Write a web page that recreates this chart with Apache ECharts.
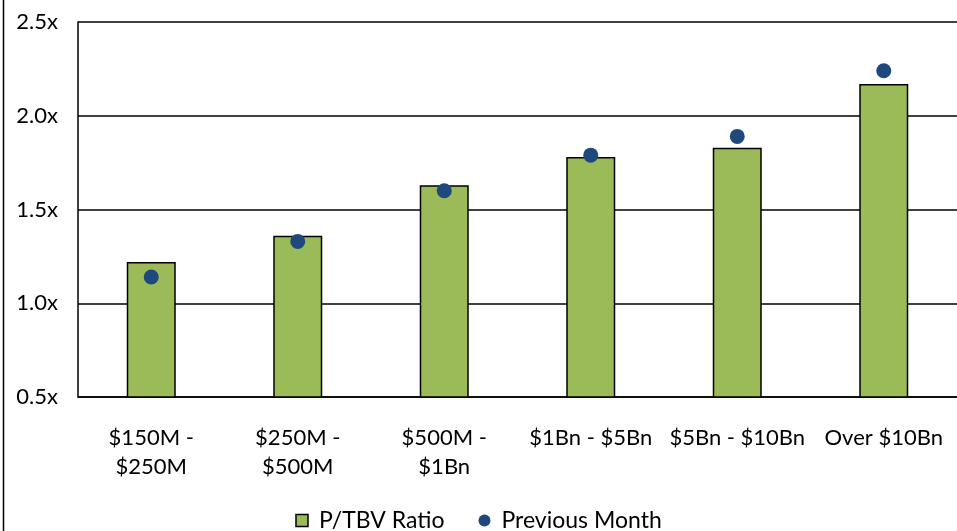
<!DOCTYPE html>
<html><head><meta charset="utf-8">
<script src="https://cdn.jsdelivr.net/npm/echarts@6/dist/echarts.min.js"></script>
<style>html,body{margin:0;padding:0;background:#fff}#c{width:957px;height:531px}</style>
</head><body><div id="c"></div>
<script>
const categories = ['$150M -\n$250M', '$250M -\n$500M', '$500M -\n$1Bn', '$1Bn - $5Bn', '$5Bn - $10Bn', 'Over $10Bn'];
const ptbvRatio = [1.22, 1.36, 1.63, 1.78, 1.83, 2.17];
const previousMonth = [1.14, 1.33, 1.60, 1.79, 1.89, 2.24];
const yTicks = { min: 0.5, max: 2.5, interval: 0.5 };

const FONT = 'Lato';
const chart = echarts.init(document.getElementById('c'), null, { renderer: 'canvas' });
chart.setOption({
  animation: false,
  backgroundColor: '#fff',
  textStyle: { fontFamily: FONT, color: '#000' },
  grid: { left: 78, top: 22, bottom: 134, width: 885, containLabel: false },
  legend: {
    bottom: -6, left: 'center', itemGap: 34, itemWidth: 12, itemHeight: 12,
    textStyle: { fontFamily: FONT, fontSize: 23, color: '#000', padding: [0, 0, 0, 6] },
    data: [
      { name: 'P/TBV Ratio', icon: 'rect', itemStyle: { borderColor: '#000', borderWidth: 1.5 } },
      { name: 'Previous Month', icon: 'circle' }
    ]
  },
  xAxis: {
    type: 'category', data: categories,
    axisLine: { lineStyle: { color: '#000', width: 1.5 } },
    axisTick: { show: false },
    axisLabel: { color: '#000', fontSize: 22, fontFamily: FONT, margin: 26, lineHeight: 29, interval: 0 }
  },
  yAxis: {
    type: 'value', min: yTicks.min, max: yTicks.max, interval: yTicks.interval,
    axisLine: { show: true, lineStyle: { color: '#000', width: 1.5 } },
    axisTick: { show: false },
    splitLine: { lineStyle: { color: '#000', width: 1.5 } },
    axisLabel: { color: '#000', fontSize: 22, fontFamily: FONT, margin: 20, formatter: v => v.toFixed(1) + 'x' }
  },
  series: [
    { name: 'P/TBV Ratio', type: 'bar', data: ptbvRatio, barWidth: 49,
      itemStyle: { color: '#9BBB59', borderColor: '#000', borderWidth: 1.5 } },
    { name: 'Previous Month', type: 'scatter', data: previousMonth, symbolSize: 15,
      itemStyle: { color: '#1F497D', opacity: 1 } }
  ],
  graphic: [
    { type: 'line', shape: { x1: 3.5, y1: 0, x2: 3.5, y2: 531 }, style: { stroke: '#000', lineWidth: 1.5 } }
  ]
});
</script></body></html>
